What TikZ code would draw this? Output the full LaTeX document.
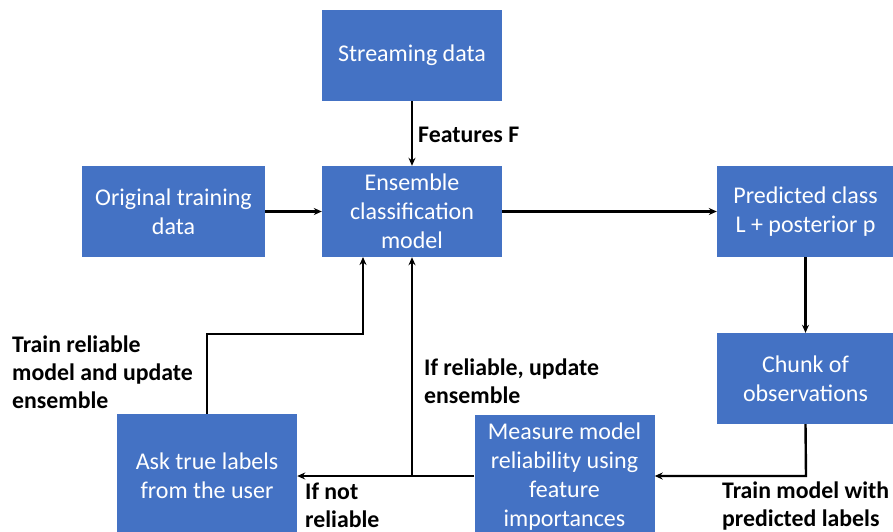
\documentclass[tikz,border=0pt]{standalone}
\usepackage{fontspec}
\setmainfont{Carlito}
\usetikzlibrary{arrows.meta,calc}
\definecolor{boxblue}{HTML}{4472C4}
\begin{document}
\begin{tikzpicture}[x=1pt,y=-1pt,
  blk/.style={fill=boxblue, draw=none, text=white, align=center,
    inner sep=0pt, minimum width=180pt, minimum height=91pt,
    font=\fontsize{24}{29}\selectfont},
  lbl/.style={anchor=base west, align=left, inner sep=0pt,
    font=\fontsize{23.8}{28}\selectfont\bfseries},
  conn/.style={draw=black, line width=2.4pt, -{Stealth[length=8pt,width=7pt]}},
  seg/.style={draw=black, line width=2.4pt}]
\useasboundingbox (0,0) rectangle (893,531);
\clip (0,0) rectangle (893,531);
\node[blk] (stream) at (412,55.5) {Streaming data};
\node[blk] (ens) at (412,211.5) {Ensemble\\classification\\model};
\node[blk, minimum width=183pt] (orig) at (173.5,211.5) {Original training\\data};
\node[blk, minimum width=177pt] (pred) at (805.5,211.5) {Predicted class\\L + posterior p};
\node[blk, minimum width=177pt] (chunk) at (805.5,378.5) {Chunk of\\observations};
\node[blk, minimum width=180pt, minimum height=124pt] (meas) at (564.5,477) {Measure model\\reliability using\\feature\\importances};
\node[blk, minimum width=180pt, minimum height=124pt] (ask) at (207,476) {Ask true labels\\from the user};

\coordinate (ensA) at (363,257);
\coordinate (junc) at (412,476);
\coordinate (bend) at (806,476);

\draw[conn] (stream) -- (ens);
\draw[conn] (orig) -- (ens);
\draw[conn] (ens) -- (pred);
\draw[conn] (pred) -- (chunk);
\draw[conn] (chunk.south) -- (bend) -- (meas.east |- bend);
\draw[conn] (meas.west |- junc) -- (ask.east |- junc);
\draw[conn] (junc) -- (ens.south);
\draw[conn] (ask.north) -- (207,334) -| (ensA);

\node[lbl] (lF) at (418,142) {Features F};
\node[lbl] (lT) at (12,408) {Train reliable\\model and update\\ensemble};
\node[lbl] (lR) at (424,403) {If reliable, update\\ensemble};
\node[lbl] (lN) at (305,527) {If not\\reliable};
\node[lbl] (lP) at (722,526) {Train model with\\predicted labels};
\end{tikzpicture}
\end{document}
